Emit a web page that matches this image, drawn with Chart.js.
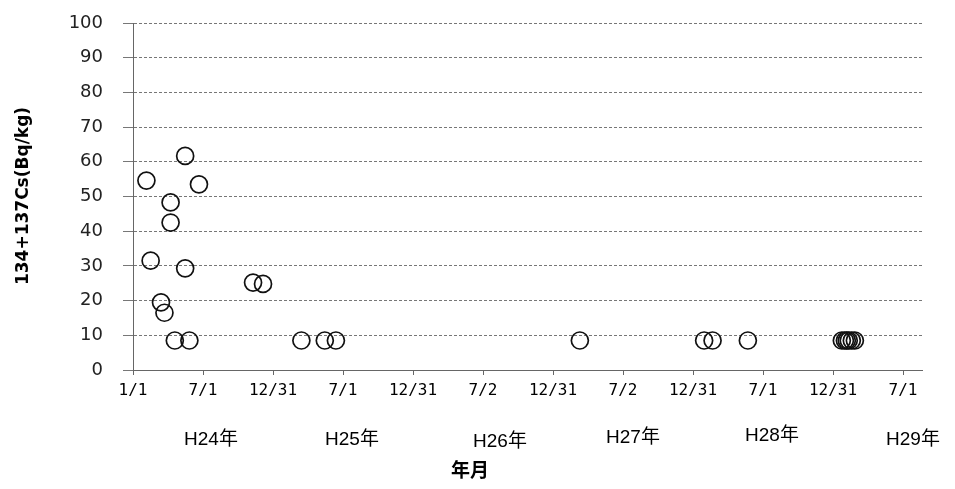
<!DOCTYPE html>
<html lang="ja">
<head>
  <meta charset="UTF-8">
  <title>134+137Cs 推移</title>
  <script src="https://cdn.jsdelivr.net/npm/chart.js"></script>
  <style>
    body { margin: 0; background: #fff; }
    #wrap { width: 955px; height: 489px; }
  </style>
</head>
<body>
  <div id="wrap"><canvas id="csChart" width="955" height="489"></canvas></div>

  <script>
    // sampling dates and measured values (Bq/kg)
    const sampleDates = [
      "2012-02-05", "2012-02-16", "2012-03-14", "2012-03-23", "2012-04-08", "2012-04-08",
      "2012-04-19", "2012-05-16", "2012-05-16", "2012-05-27", "2012-06-21",
      "2012-11-09", "2012-12-05",
      "2013-03-15", "2013-05-15", "2013-06-13",
      "2015-03-11",
      "2016-01-29", "2016-02-20", "2016-05-22",
      "2017-01-22", "2017-01-30", "2017-02-04", "2017-02-09", "2017-02-17", "2017-02-25"
    ];
    const csValues = [
      54.6, 31.5, 19.5, 16.5, 48.3, 42.5,
      8.5, 61.7, 29.3, 8.5, 53.5,
      25.2, 24.8,
      8.5, 8.5, 8.5,
      8.5,
      8.5, 8.5, 8.5,
      8.5, 8.5, 8.5, 8.5, 8.5, 8.5
    ];
    const tickLabels = ["1/1", "7/1", "12/31", "7/1", "12/31", "7/2", "12/31", "7/2", "12/31", "7/1", "12/31", "7/1"];
    const yearLabels = ["H24年", "H25年", "H26年", "H27年", "H28年", "H29年"];

    const startDay = Date.UTC(2012, 0, 1);
    const halfYear = 182.5;
    function dayOf(s) {
      const [y, m, d] = s.split("-").map(Number);
      return (Date.UTC(y, m - 1, d) - startDay) / 86400000;
    }
    const points = sampleDates.map((s, i) => ({ x: dayOf(s), y: csValues[i] }));

    const extraText = {
      id: "extraText",
      afterDraw(chart) {
        const c = chart.ctx;
        c.save();
        c.fillStyle = "#000";
        c.textAlign = "center";
        c.textBaseline = "middle";
        c.font = "19px 'Liberation Sans Narrow', 'Liberation Sans', 'Noto Sans CJK JP', sans-serif";
        const xPos = [211, 352, 500, 633, 772, 913];
        const yPos = [440, 440, 442, 438, 436, 440];
        yearLabels.forEach((t, i) => c.fillText(t, xPos[i], yPos[i]));
        c.font = "bold 19px 'Noto Sans CJK JP', sans-serif";
        c.fillText("年月", 470, 470);
        c.translate(24, 196);
        c.rotate(-Math.PI / 2);
        c.font = "bold 17px 'DejaVu Sans', sans-serif";
        c.fillText("134+137Cs(Bq/kg)", 0, 0);
        c.restore();
      }
    };

    const ctx = document.getElementById("csChart").getContext("2d");
    new Chart(ctx, {
      type: "scatter",
      data: {
        datasets: [{
          data: points,
          pointStyle: "circle",
          pointRadius: 8.5,
          pointHoverRadius: 8.5,
          borderWidth: 1.7,
          borderColor: "#111",
          backgroundColor: "rgba(0,0,0,0)"
        }]
      },
      options: {
        responsive: false,
        animation: false,
        layout: { padding: { left: 0, right: 33, top: 23, bottom: 0 } },
        plugins: { legend: { display: false }, tooltip: { enabled: false } },
        scales: {
          x: {
            type: "linear",
            min: 0,
            max: 2057,
            afterBuildTicks(scale) {
              scale.ticks = tickLabels.map((l, i) => ({ value: i * halfYear }));
            },
            afterFit(scale) {
              scale.height = 119;
              scale.paddingLeft = 0;
              scale.paddingRight = 0;
            },
            grid: {
              drawOnChartArea: false,
              drawTicks: true,
              tickLength: 5,
              color: "#666"
            },
            border: { display: true, color: "#666", dash: [3, 2] },
            ticks: {
              autoSkip: false,
              maxRotation: 0,
              padding: 6,
              color: "#000",
              font: { size: 16, family: "'DejaVu Sans Mono', 'Noto Sans CJK JP', monospace" },
              callback: (v) => tickLabels[Math.round(v / halfYear)]
            }
          },
          y: {
            min: 0,
            max: 100,
            afterFit(scale) {
              scale.width = 133;
              scale.paddingTop = 0;
              scale.paddingBottom = 0;
            },
            grid: {
              color: "#777",
              lineWidth: 1,
              tickLength: 10
            },
            border: { display: true, color: "#666", dash: [3, 2] },
            ticks: {
              stepSize: 10,
              padding: 20,
              color: "#222",
              font: { size: 18, family: "'DejaVu Sans', sans-serif" }
            }
          }
        }
      },
      plugins: [extraText]
    });
  </script>
</body>
</html>
